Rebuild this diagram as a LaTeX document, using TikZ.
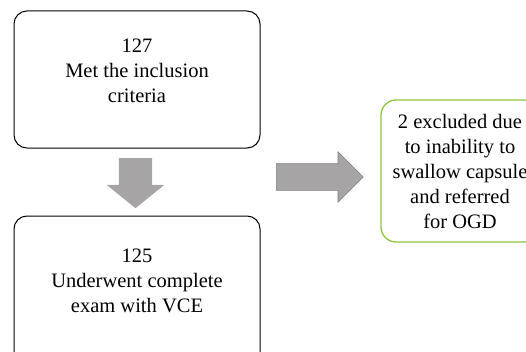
\documentclass[tikz,border=0pt]{standalone}
\usepackage{fontspec}
\setmainfont{Liberation Serif}
\usepackage{xcolor}
\usepackage{tikz}
\usetikzlibrary{shapes.arrows}

\definecolor{exclgreen}{RGB}{141,198,63}
\definecolor{blkgray}{RGB}{166,164,164}

\begin{document}
\begin{tikzpicture}[
    x=1pt, y=1pt,
    box/.style={draw, rectangle, rounded corners=13pt, line width=1pt,
                minimum width=246pt, align=center,
                font=\fontsize{20.5}{25}\selectfont},
    excl/.style={box, draw=exclgreen, line width=1.3pt, rounded corners=15pt,
                 minimum width=158pt, minimum height=142pt},
    blk/.style={single arrow, inner sep=0pt, single arrow head extend=12pt,
                fill=blkgray, anchor=tail}
]
\useasboundingbox (0,0) rectangle (526,351);
\clip (0,0) rectangle (526,351);
%% Left column: patients
\node[box, minimum height=137pt, text depth=17pt] (met) at (137, 271.5) {
    127\\Met the inclusion\\criteria
};
\node[box, minimum height=160pt, text depth=30pt] (vce) at (137, 55) {
    125\\Underwent complete\\exam with VCE
};
%% Right: excluded patients
\node[excl] (ogd) at (460, 180) {
    2 excluded due\\to inability to\\swallow capsule\\and referred\\for OGD
};
%% Block arrows
\node[blk, inner xsep=16.5pt, minimum height=50pt,
      single arrow tip angle=102, shape border rotate=270] (down) at (135.5, 193) {};
\node[blk, draw=gray, line width=0.6pt, inner ysep=13pt, minimum height=87pt,
      single arrow tip angle=90] (right) at (276, 174) {};
\end{tikzpicture}
\end{document}
